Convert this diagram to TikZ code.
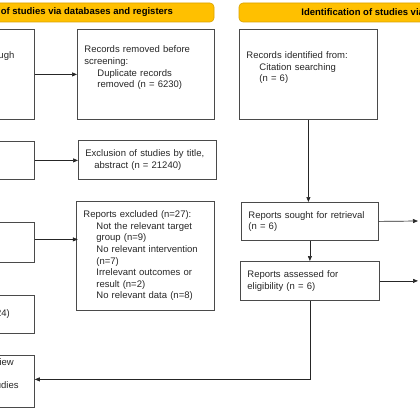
\documentclass[tikz,border=0pt]{standalone}
\usepackage{fontspec}
\setmainfont{Liberation Sans}
\usetikzlibrary{arrows.meta}
\definecolor{hdr}{HTML}{FFC000}
\definecolor{hdrline}{HTML}{D9A200}
\definecolor{boxline}{HTML}{4A4A4A}
\definecolor{txt}{HTML}{262626}
\tikzset{
  box/.style={draw=boxline, line width=0.8pt, inner xsep=7pt, inner ysep=0pt, align=left, anchor=north west, text=txt},
  head/.style={draw=hdrline, fill=hdr, rounded corners=4pt, line width=0.6pt, minimum width=316pt, minimum height=19pt, inner sep=0pt, font=\fontsize{9.5}{11}\selectfont\bfseries},
  arr/.style={draw=black!85, line width=0.7pt, -{Triangle[length=5pt,width=4pt]}},
  lin/.style={draw=black!85, line width=0.7pt}}

\begin{document}
\begin{tikzpicture}[x=1pt, y=-1pt, font=\fontsize{9.5}{11.6}\selectfont]
\useasboundingbox (0,0) rectangle (420,420);
\clip (0,0) rectangle (420,420);
\node[head] (hd1) at (56,12.5) {Identification of studies via databases and registers};
\node[head] (hd2) at (397,12.5) {Identification of studies via other methods};
\node[box, text width=125pt, minimum height=90pt] (b1) at (-105,29) {Records identified through\\\strut\\\strut\\\strut};
\node[box, text width=123pt, minimum height=90pt] (r1) at (77,29) {Records removed before\\screening:\\\hspace*{13pt}Duplicate records\\\hspace*{13pt}removed (n = 6230)\\\strut};
\node[box, text width=124pt, minimum height=90pt] (c1) at (239,29) {Records identified from:\\\hspace*{13pt}Citation searching\\\hspace*{13pt}(n = 6)\\\strut};
\node[box, text width=125pt, minimum height=38pt] (b2) at (-105,141) {};
\node[box, text width=124pt, minimum height=39pt] (r2) at (78,140) {Exclusion of studies by title,\\\hspace*{9pt}abstract (n = 21240)};
\node[box, text width=125pt, minimum height=40pt] (b3) at (-105,222) {};
\node[box, text width=124pt, minimum height=109pt] (r3) at (76,201) {Reports excluded (n=27):\\\hspace*{13pt}Not the relevant target\\\hspace*{13pt}group (n=9)\\\hspace*{13pt}No relevant intervention\\\hspace*{13pt}(n=7)\\\hspace*{13pt}Irrelevant outcomes or\\\hspace*{13pt}result (n=2)\\\hspace*{13pt}No relevant data (n=8)};
\node[box, text width=123pt, minimum height=38pt] (c2) at (241,202) {Reports sought for retrieval\\(n = 6)};
\node[box, text width=125pt, minimum height=39pt] (c3) at (240,261) {Reports assessed for\\eligibility (n = 6)};
\node[box, text width=125pt, minimum height=38pt] (b4) at (-105,295) {Studies included (n = 24)};
\node[box, text width=125pt, minimum height=52pt] (b5) at (-105,355) {Studies included in review\\\strut\\Reports of included studies\\\strut};
\coordinate (o1) at (418,221);
\coordinate (o2) at (418,282);
\draw[arr] (b1.east) -- (b1.east -| r1.west);
\draw[arr] (b2.east) -- (b2.east -| r2.west);
\draw[arr] (b3.east) ++(0,-3) -- ++(43,0);
\draw[arr] (c1.south) -- (c1.south |- c2.north);
\draw[arr] (c2.south) -- (c2.south |- c3.north);
\draw[arr] (c2.east) -- (o1);
\draw[arr] (c3.east) -- (c3.east -| o2);
\draw[arr] (c3.south) |- ([yshift=2pt]b5.east);
\end{tikzpicture}
\end{document}
